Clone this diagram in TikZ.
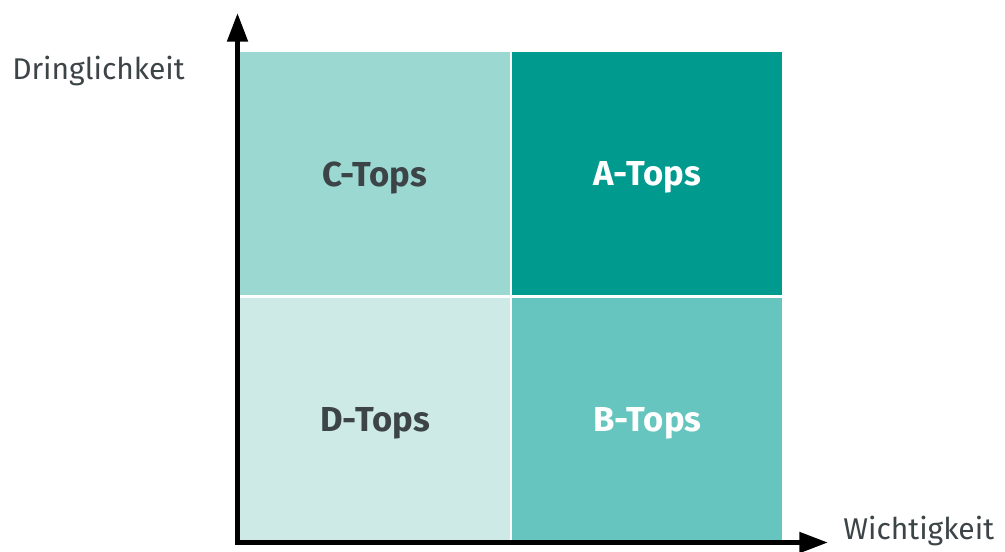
\documentclass[tikz,border=0pt]{standalone}
\usepackage{fontspec}
\setmainfont{Fira Sans}
\usetikzlibrary{arrows.meta}
\definecolor{cC}{HTML}{9AD8D1}
\definecolor{cA}{HTML}{009A8E}
\definecolor{cD}{HTML}{CDEAE7}
\definecolor{cB}{HTML}{66C5BE}
\definecolor{txt}{HTML}{3D4447}
\tikzset{
  quad/.style={draw=none, inner sep=0pt, anchor=north west, text depth=0pt, minimum width=269.5*0.75pt, minimum height=243*0.75pt, font=\fontsize{26pt}{30pt}\selectfont\bfseries},
  axis/.style={line width=3.75pt, line cap=rect, -{Triangle[length=21.5pt,width=15pt]}},
  axlabel/.style={text=txt, font=\fontsize{22.5pt}{26pt}\selectfont, inner sep=0pt}
}
\begin{document}
\begin{tikzpicture}[x=0.75pt,y=-0.75pt]
\useasboundingbox (0,0) rectangle (1005,551);
\node[quad, fill=cC, text=txt] (c) at (240,52) {C-Tops};
\node[quad, fill=cA, text=white, minimum width=270*0.75pt] (a) at (512,52) {A-Tops};
\node[quad, fill=cD, text=txt, minimum height=242*0.75pt] (d) at (240,298) {D-Tops};
\node[quad, fill=cB, text=white, minimum width=270*0.75pt, minimum height=242*0.75pt] (b) at (512,298) {B-Tops};
\coordinate (o) at (237.5,542.5);
\coordinate (ytop) at (237.5,13);
\coordinate (xend) at (828,542.5);
\draw[axis] (o) -- (ytop);
\draw[axis] (o) -- (xend);
\node[axlabel, anchor=west] (yl) at (12,71) {Dringlichkeit};
\node[axlabel, anchor=west] (xl) at (843,531) {Wichtigkeit};
\end{tikzpicture}
\end{document}
